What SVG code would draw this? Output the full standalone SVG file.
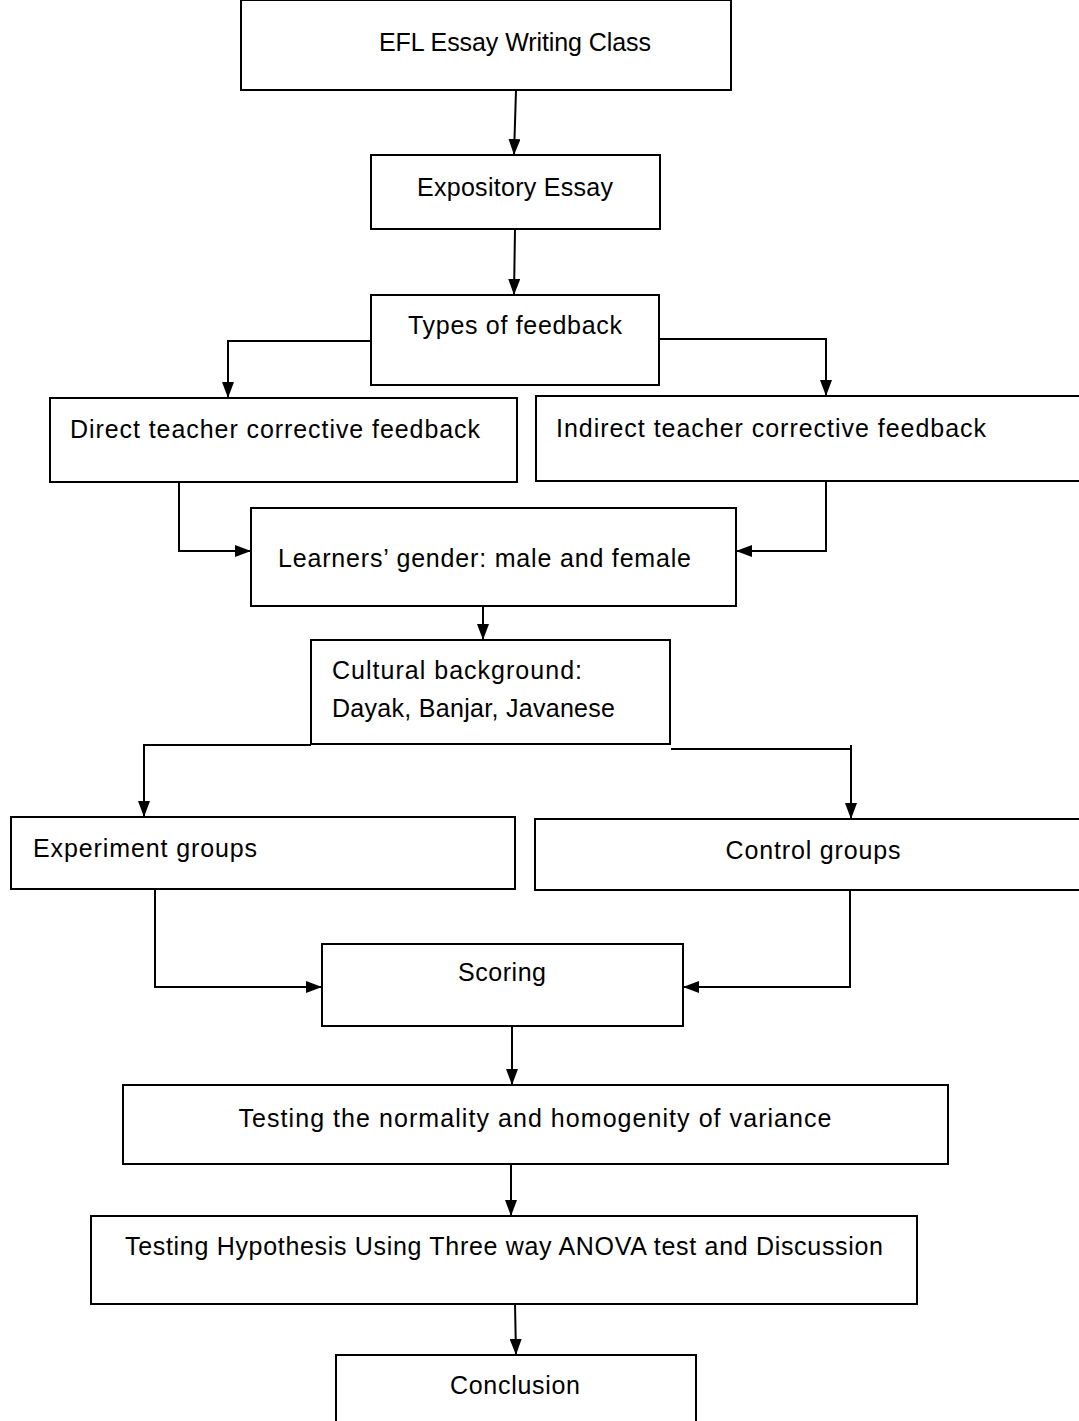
<svg xmlns="http://www.w3.org/2000/svg" width="1079" height="1421" viewBox="0 0 1079 1421">
<style>
.b{fill:#fff;stroke:#000;stroke-width:2}
.t{font-family:"Liberation Sans",Arial,sans-serif;font-size:25px;fill:#000}
.c{fill:none;stroke:#000;stroke-width:2}
</style>
<defs>
<marker id="a" viewBox="0 0 16 12" refX="16" refY="6" markerWidth="16" markerHeight="12" markerUnits="userSpaceOnUse" orient="auto">
<path d="M0,0 L16,6 L0,12 Z" fill="#000"/>
</marker>
</defs>
<rect width="1079" height="1421" fill="#fff"/>
<g id="connectors">
<path class="c" d="M516,90 L514,155" marker-end="url(#a)"/>
<path class="c" d="M515,229 L514,295" marker-end="url(#a)"/>
<path class="c" d="M371,341 L228,341 L228,398" marker-end="url(#a)"/>
<path class="c" d="M659,339 L826,339 L826,396" marker-end="url(#a)"/>
<path class="c" d="M179,482 L179,551 L251,551" marker-end="url(#a)"/>
<path class="c" d="M826,481 L826,551 L736,551" marker-end="url(#a)"/>
<path class="c" d="M483,606 L483,640" marker-end="url(#a)"/>
<path class="c" d="M311,745 L144,745 L144,817" marker-end="url(#a)"/>
<path class="c" d="M671,749 L851,749"/>
<path class="c" d="M851,745 L851,819" marker-end="url(#a)"/>
<path class="c" d="M155,889 L155,987 L322,987" marker-end="url(#a)"/>
<path class="c" d="M850,890 L850,987 L683,987" marker-end="url(#a)"/>
<path class="c" d="M512,1026 L512,1085" marker-end="url(#a)"/>
<path class="c" d="M511,1164 L511,1216" marker-end="url(#a)"/>
<path class="c" d="M515,1304 L516,1355" marker-end="url(#a)"/>
</g>
<g id="n1"><rect class="b" x="241" y="0" width="490" height="90"/><text class="t" x="515" y="51" text-anchor="middle" textLength="272">EFL Essay Writing Class</text></g>
<g id="n2"><rect class="b" x="371" y="155" width="289" height="74"/><text class="t" x="515" y="196" text-anchor="middle" textLength="196">Expository Essay</text></g>
<g id="n3"><rect class="b" x="371" y="295" width="288" height="90"/><text class="t" x="515" y="334" text-anchor="middle" textLength="214">Types of feedback</text></g>
<g id="n4"><rect class="b" x="50" y="398" width="467" height="84"/><text class="t" x="70" y="438" textLength="410">Direct teacher corrective feedback</text></g>
<g id="n5"><rect class="b" x="536" y="396" width="545" height="85"/><text class="t" x="556" y="437" textLength="430">Indirect teacher corrective feedback</text></g>
<g id="n6"><rect class="b" x="251" y="508" width="485" height="98"/><text class="t" x="278" y="567" textLength="413">Learners’ gender: male and female</text></g>
<g id="n7"><rect class="b" x="311" y="640" width="359" height="104"/><text class="t" x="332" y="679" textLength="250">Cultural background:</text><text class="t" x="332" y="717" textLength="283">Dayak, Banjar, Javanese</text></g>
<g id="n8"><rect class="b" x="11" y="817" width="504" height="72"/><text class="t" x="33" y="857" textLength="224">Experiment groups</text></g>
<g id="n9"><rect class="b" x="535" y="819" width="546" height="71"/><text class="t" x="813" y="859" text-anchor="middle" textLength="175">Control groups</text></g>
<g id="n10"><rect class="b" x="322" y="944" width="361" height="82"/><text class="t" x="502" y="981" text-anchor="middle" textLength="88">Scoring</text></g>
<g id="n11"><rect class="b" x="123" y="1085" width="825" height="79"/><text class="t" x="535" y="1127" text-anchor="middle" textLength="593">Testing the normality and homogenity of variance</text></g>
<g id="n12"><rect class="b" x="91" y="1216" width="826" height="88"/><text class="t" x="504" y="1255" text-anchor="middle" textLength="758">Testing Hypothesis Using Three way ANOVA test and Discussion</text></g>
<g id="n13"><rect class="b" x="336" y="1355" width="360" height="70"/><text class="t" x="515" y="1394" text-anchor="middle" textLength="130">Conclusion</text></g>
</svg>
